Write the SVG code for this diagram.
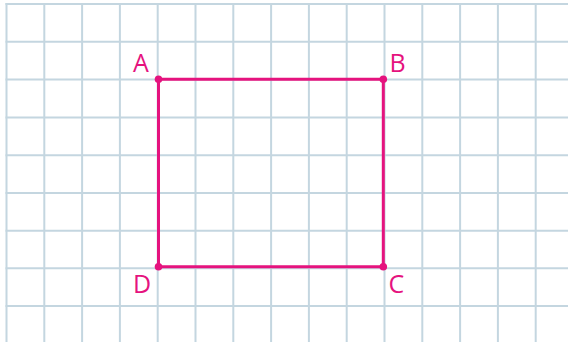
<svg xmlns="http://www.w3.org/2000/svg" width="568" height="342" viewBox="0 0 568 342">
<style>
.grid line{stroke:#c4d6e0;stroke-width:2}
.edge{stroke:#e5137e;stroke-width:3;fill:none}
.pt{fill:#e5137e}
.lbl{font-family:"Open Sans","DejaVu Sans",sans-serif;font-size:25px;fill:#e5137e}
</style>
<rect width="568" height="342" fill="#ffffff"/>
<g id="grid" class="grid">
<line x1="6.5" y1="3" x2="6.5" y2="342"/>
<line x1="44.3" y1="3" x2="44.3" y2="342"/>
<line x1="82.1" y1="3" x2="82.1" y2="342"/>
<line x1="119.9" y1="3" x2="119.9" y2="342"/>
<line x1="157.7" y1="3" x2="157.7" y2="342"/>
<line x1="195.5" y1="3" x2="195.5" y2="342"/>
<line x1="233.3" y1="3" x2="233.3" y2="342"/>
<line x1="271.1" y1="3" x2="271.1" y2="342"/>
<line x1="308.9" y1="3" x2="308.9" y2="342"/>
<line x1="346.7" y1="3" x2="346.7" y2="342"/>
<line x1="384.5" y1="3" x2="384.5" y2="342"/>
<line x1="422.3" y1="3" x2="422.3" y2="342"/>
<line x1="460.1" y1="3" x2="460.1" y2="342"/>
<line x1="497.9" y1="3" x2="497.9" y2="342"/>
<line x1="535.7" y1="3" x2="535.7" y2="342"/>
<line x1="5.5" y1="4" x2="568" y2="4"/>
<line x1="5.5" y1="41.8" x2="568" y2="41.8"/>
<line x1="5.5" y1="79.6" x2="568" y2="79.6"/>
<line x1="5.5" y1="117.4" x2="568" y2="117.4"/>
<line x1="5.5" y1="155.2" x2="568" y2="155.2"/>
<line x1="5.5" y1="193" x2="568" y2="193"/>
<line x1="5.5" y1="230.8" x2="568" y2="230.8"/>
<line x1="5.5" y1="268.2" x2="568" y2="268.2"/>
<line x1="5.5" y1="306" x2="568" y2="306"/>
</g>
<g id="connectors">
<polygon class="edge" points="158.5,79.3 383.3,79.3 383.3,266.7 158.5,266.7"/>
</g>
<g id="A"><circle class="pt" cx="158.5" cy="79.3" r="3.8"/><text class="lbl" x="133" y="72">A</text></g>
<g id="B"><circle class="pt" cx="383.3" cy="79.3" r="3.8"/><text class="lbl" x="389.5" y="72">B</text></g>
<g id="C"><circle class="pt" cx="383.3" cy="266.7" r="3.8"/><text class="lbl" x="388.5" y="293">C</text></g>
<g id="D"><circle class="pt" cx="158.5" cy="266.7" r="3.8"/><text class="lbl" x="133" y="293">D</text></g>
</svg>
